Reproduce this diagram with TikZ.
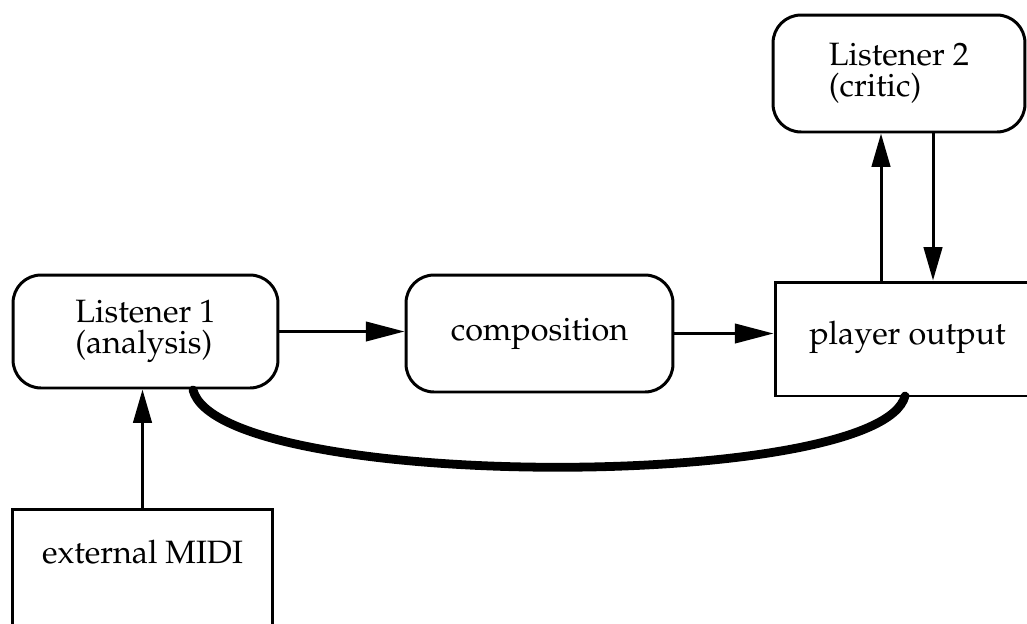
\documentclass[tikz,border=0pt]{standalone}
\usepackage[T1]{fontenc}
\usepackage{mathpazo}
\usetikzlibrary{arrows.meta}
\newcommand{\labelfont}{\fontsize{18.4}{17.6}\selectfont}
\tikzset{
  roundbox/.style={draw, line width=1.7pt, rounded corners=0.56cm,
    align=left, font=\labelfont, inner sep=0pt},
  plainbox/.style={draw, line width=1.7pt, inner sep=0pt},
  boxtext/.style={font=\labelfont, inner sep=0pt},
  flow/.style={line width=1.7pt, -{Triangle[length=22pt,width=11pt]}},
  vflow/.style={line width=1.7pt, -{Triangle[length=19pt,width=10.5pt]}},
  feedback/.style={line width=5pt, line cap=round},
}
\begin{document}
\begin{tikzpicture}[x=0.02cm, y=-0.02cm]
  \useasboundingbox (0,0) rectangle (1027,623);
  \clip (0,0) rectangle (1027,623);

  % boxes
  \node[roundbox, minimum width=5.3cm, minimum height=2.26cm] (L1) at (145.5,331.5)
    {Listener 1\\(analysis)};
  \node[roundbox, minimum width=5.34cm, minimum height=2.34cm] (comp) at (539.5,333.5)
    {composition};
  \node[plainbox, minimum width=5.3cm, minimum height=2.28cm] (player) at (907.5,339) {};
  \node[boxtext] (playerlabel) at (907.5,337) {player output};
  \node[roundbox, minimum width=5.04cm, minimum height=2.34cm] (L2) at (899,73.5)
    {Listener 2\\(critic)};
  \node[plainbox, minimum width=5.22cm, minimum height=3.2cm, anchor=north] (midi) at (142.5,508) {};
  \node[boxtext] (midilabel) at (142.5,552) {external MIDI};

  % connectors
  \draw[flow] (L1.east) -- (L1.east -| comp.west);
  \draw[flow] (comp.east) -- (comp.east -| player.west);
  \draw[vflow] (midi.north) -- (midi.north |- L1.south);
  \draw[vflow] (player.north -| 881,0) -- (L2.south -| 881,0);
  \draw[vflow] (L2.south -| 933,0) -- (player.north -| 933,0);

  % feedback path from the player back to the first listener
  \coordinate (fbstart) at (193,390);
  \coordinate (fbend) at (905,396);
  \draw[feedback] (fbstart) .. controls (220,492) and (880,492) .. (fbend);
\end{tikzpicture}
\end{document}
